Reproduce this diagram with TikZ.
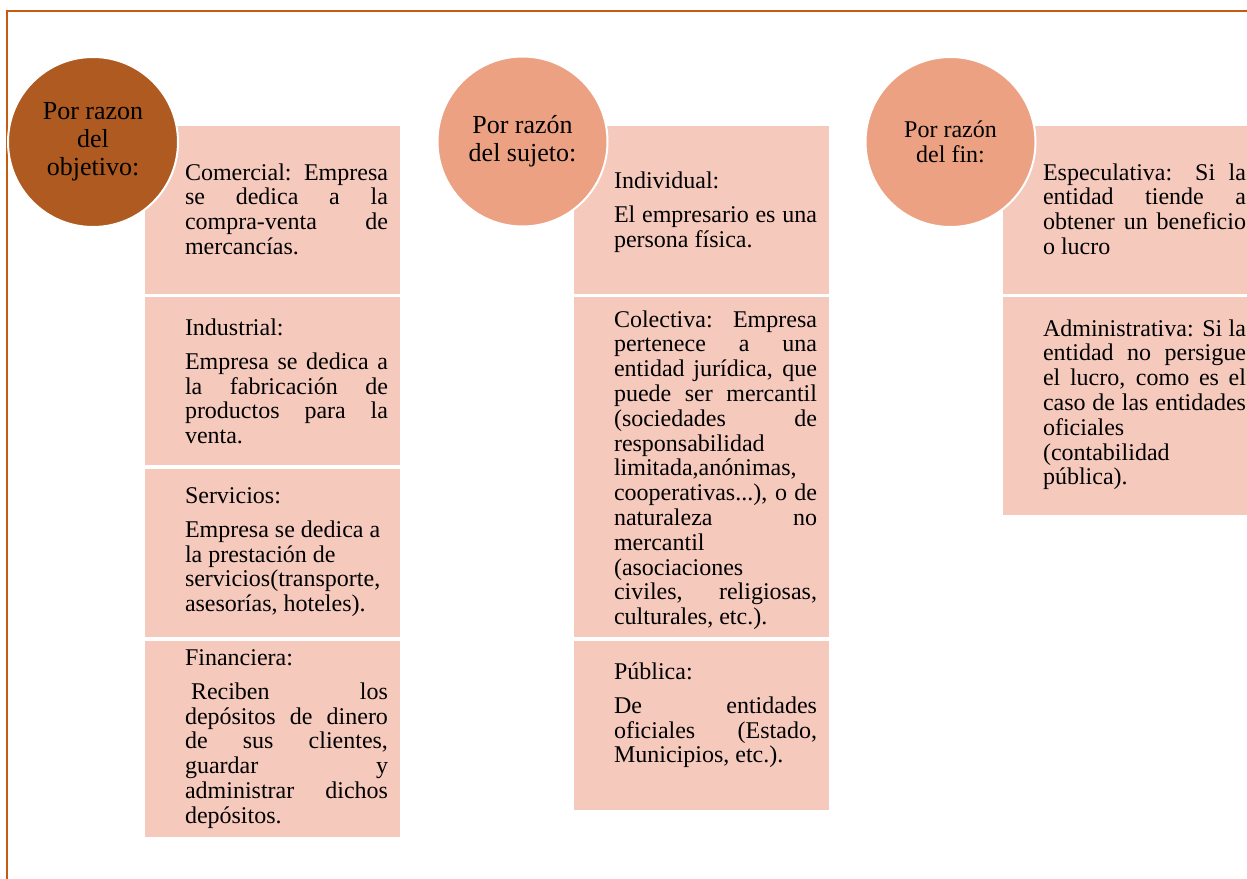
\documentclass[tikz,border=0pt]{standalone}
\usepackage{fontspec}
\setmainfont{Liberation Serif}

\definecolor{framecol}{HTML}{C55A11}
\definecolor{darkdisc}{HTML}{AE5A21}
\definecolor{lightdisc}{HTML}{ECA183}
\definecolor{panel}{HTML}{F5C9BC}

% justified panel text: accept loose lines, never hyphenate
\tolerance=10000\relax
\hbadness=10000\relax
\hyphenpenalty=10000\relax

\tikzset{
  panelbox/.style={fill=panel},
  frameline/.style={draw=framecol, line width=2pt},
  disc/.style={circle, draw=white, line width=2pt, minimum size=170pt,
    inner sep=0pt, align=center, text=black},
  disctext/.style={font=\fontsize{26}{28}\selectfont},
  smalldisctext/.style={font=\fontsize{24}{25.5}\selectfont},
  boxtext/.style={anchor=base west, inner sep=0pt, outer sep=0pt,
    text width=203pt, align=justify,
    font=\fontsize{24}{24.8}\selectfont},
}
\newcommand{\paragap}{\par\vspace{9.5pt}}

\begin{document}
\begin{tikzpicture}[x=1pt, y=-1pt]
  \useasboundingbox (0,0) rectangle (1247,878);

  % page frame (top and left rules)
  \draw[frameline] (1250,10.5) -- (7,10.5) -- (7,880);

  % column 1 panels
  \fill[panelbox] (145,126) rectangle (400,294);
  \fill[panelbox] (145,297) rectangle (400,465);
  \fill[panelbox] (145,469) rectangle (400,637);
  \fill[panelbox] (145,641) rectangle (400,837);

  % column 2 panels
  \fill[panelbox] (574,126) rectangle (829,294);
  \fill[panelbox] (574,297) rectangle (829,637);
  \fill[panelbox] (574,641) rectangle (829,810);

  % column 3 panels
  \fill[panelbox] (1003,126) rectangle (1258,294);
  \fill[panelbox] (1003,297) rectangle (1258,515);

  % column 1 texts
  \node[boxtext] (comercial) at (185,180) {Comercial: Empresa\linebreak se dedica a la\linebreak compra-venta de\linebreak mercancías.};
  \node[boxtext] (industrial) at (185,335) {Industrial:\paragap Empresa se dedica a\linebreak la fabricación de\linebreak productos para la\linebreak venta.};
  \node[boxtext] (servicios) at (185,503) {Servicios:\paragap Empresa se dedica a\\ la prestación de\\ servicios(transporte,\\ asesorías, hoteles).};
  \node[boxtext] (financiera) at (185,665) {Financiera:\paragap\hspace*{6pt}Reciben los\linebreak depósitos de dinero\linebreak de sus clientes,\linebreak guardar y\linebreak administrar dichos\linebreak depósitos.};

  % column 2 texts
  \node[boxtext] (individual) at (614,188) {Individual:\paragap El empresario es una\linebreak persona física.};
  \node[boxtext] (colectiva) at (614,327) {Colectiva: Empresa\linebreak pertenece a una\linebreak entidad jurídica, que\linebreak puede ser mercantil\linebreak (sociedades de\linebreak responsabilidad\linebreak limitada,anónimas,\linebreak cooperativas...), o de\linebreak naturaleza no\linebreak mercantil\linebreak (asociaciones\linebreak civiles, religiosas,\linebreak culturales, etc.).};
  \node[boxtext] (publica) at (614,679) {Pública:\paragap De entidades\linebreak oficiales (Estado,\linebreak Municipios, etc.).};

  % column 3 texts
  \node[boxtext] (especulativa) at (1043,180) {Especulativa: Si la\linebreak entidad tiende a\linebreak obtener un beneficio\linebreak o lucro};
  \node[boxtext] (administrativa) at (1043,336) {Administrativa: Si la\linebreak entidad no persigue\linebreak el lucro, como es el\linebreak caso de las entidades\linebreak oficiales\linebreak (contabilidad\linebreak pública).};

  % heading discs
  \node[disc, fill=darkdisc, disctext] (objetivo) at (93,142) {Por razon\\del\\objetivo:};
  \node[disc, fill=lightdisc, disctext] (sujeto) at (522.5,141.5) {Por razón\\del sujeto:};
  \node[disc, fill=lightdisc, smalldisctext] (fin) at (950.5,142) {Por razón\\del fin:};
\end{tikzpicture}
\end{document}
